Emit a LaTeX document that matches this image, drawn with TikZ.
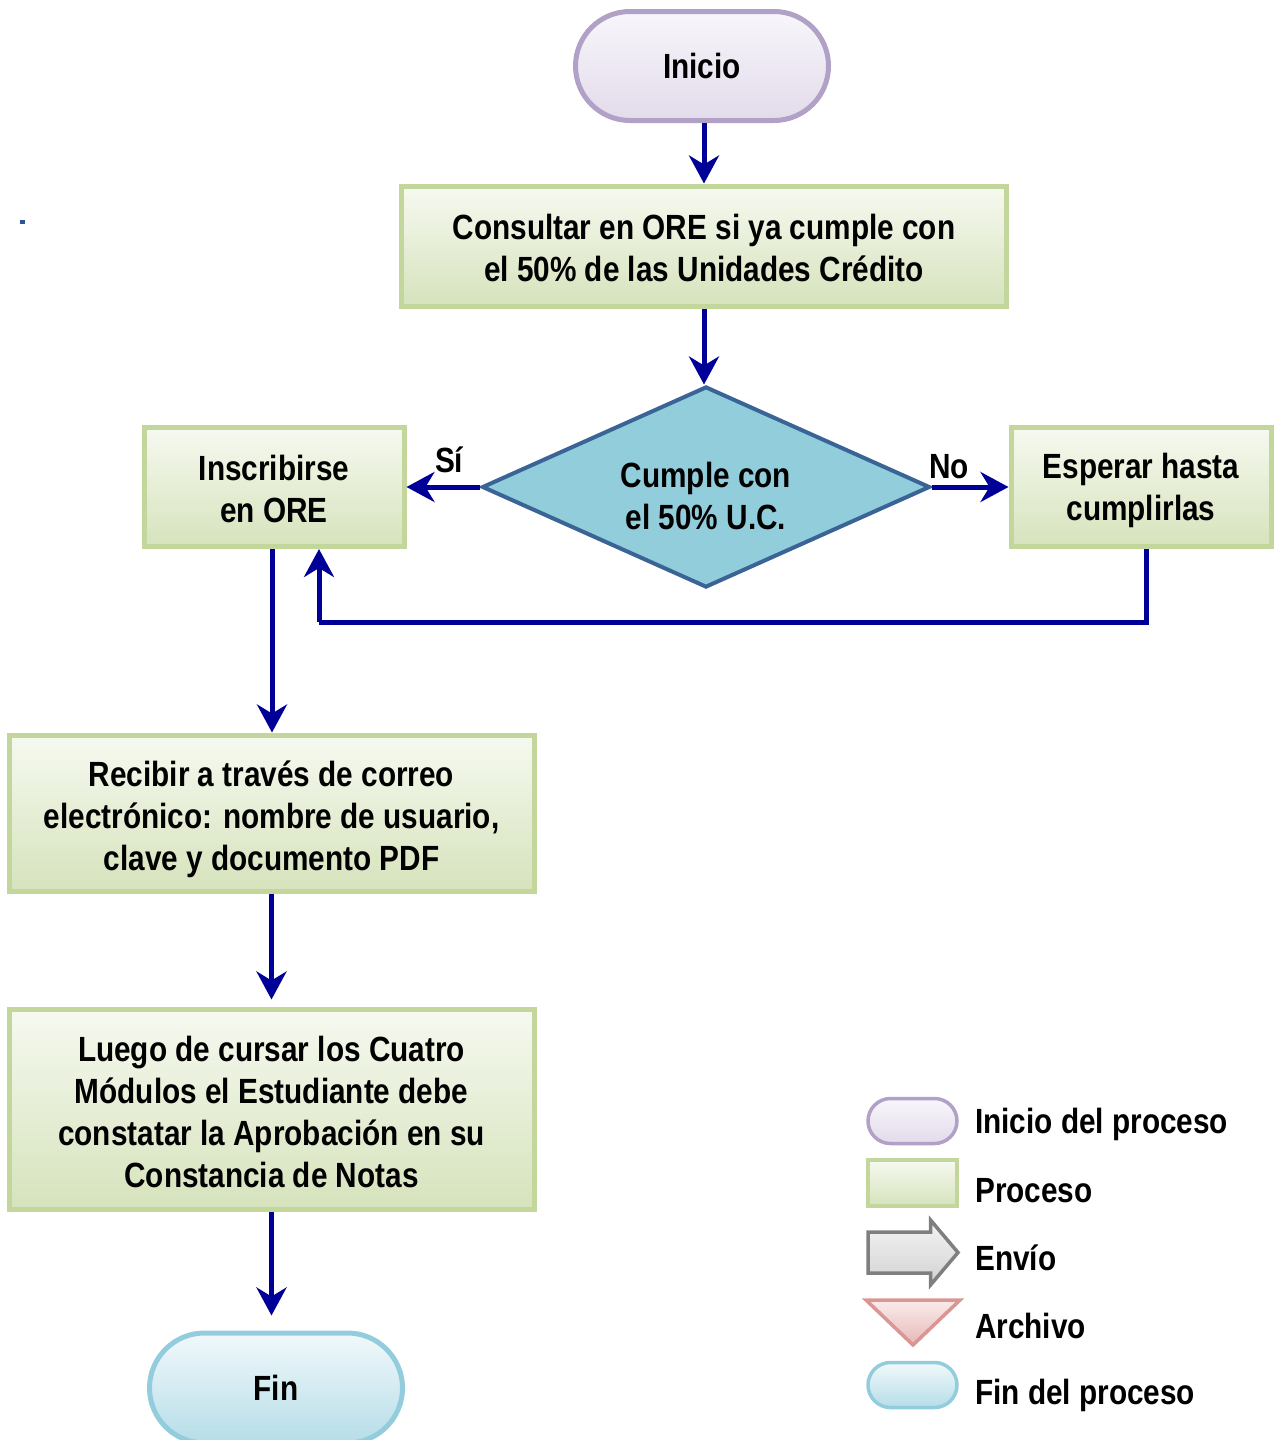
\documentclass[tikz,border=0pt]{standalone}
\usepackage{fontspec}
\setmainfont{Liberation Sans}[FakeStretch=0.85]
\usetikzlibrary{arrows.meta,shapes.geometric,shapes.misc,calc}

\definecolor{flowblue}{RGB}{0,0,153}
\definecolor{procline}{HTML}{C3D69B}
\definecolor{proctop}{HTML}{F6F9F0}
\definecolor{procbot}{HTML}{D6E3BC}
\definecolor{iniline}{HTML}{B2A1C7}
\definecolor{initop}{HTML}{F8F6FB}
\definecolor{inibot}{HTML}{E2DBEB}
\definecolor{finline}{HTML}{93CDDD}
\definecolor{fintop}{HTML}{F1F9FB}
\definecolor{finbot}{HTML}{B6DDE8}
\definecolor{decfill}{HTML}{92CDDC}
\definecolor{decline}{HTML}{3A6495}
\definecolor{envline}{HTML}{7F7F7F}
\definecolor{envtop}{HTML}{F4F4F4}
\definecolor{envbot}{HTML}{D2D2D2}
\definecolor{arcline}{HTML}{D99694}
\definecolor{arctop}{HTML}{FAECEC}
\definecolor{arcbot}{HTML}{E6B8B7}
\definecolor{dotblue}{HTML}{2F5597}

\begin{document}
\begin{tikzpicture}[x=1pt,y=-1pt,
  every node/.style={font=\fontsize{35}{42}\selectfont\bfseries, text=black},
  procbox/.style={rectangle, draw=procline, line width=5pt,
    top color=proctop, bottom color=procbot, inner sep=0pt},
  boxtext/.style={align=center, inner sep=0pt},
  startbox/.style={rounded rectangle, draw=iniline, line width=5pt,
    top color=initop, bottom color=inibot, inner sep=0pt},
  endbox/.style={rounded rectangle, draw=finline, line width=5pt,
    top color=fintop, bottom color=finbot, inner sep=0pt},
  decbox/.style={diamond, draw=decline, line width=4pt, fill=decfill,
    inner sep=0pt},
  flow/.style={draw=flowblue, line width=5pt,
    -{Stealth[length=28pt, width=30pt, inset=9pt]}},
  flowline/.style={draw=flowblue, line width=5pt},
  legtext/.style={anchor=base west, inner sep=0pt},
]
\useasboundingbox (0,0) rectangle (1274,1440);

% boxes of the main flow
\node[startbox, minimum width=253pt, minimum height=109pt] (ini) at (702,66) {Inicio};
\node[procbox, minimum width=605pt, minimum height=120pt] (cons) at (704,246) {};
\node[boxtext] (constext) at (704,248)
  {Consultar en ORE si ya cumple con\\el 50\% de las Unidades Crédito};
\node[decbox, minimum width=448pt, minimum height=201pt] (dec) at (706,487) {};
\node[boxtext] (dectext) at (706,496) {Cumple con\\el 50\% U.C.};
\node[procbox, minimum width=260pt, minimum height=119pt] (ins) at (274,487) {};
\node[boxtext] (instext) at (274,489) {Inscribirse\\en ORE};
\node[procbox, minimum width=260pt, minimum height=119pt] (esp) at (1141,487) {};
\node[boxtext] (esptext) at (1141,490) {Esperar hasta\\cumplirlas};
\node[procbox, minimum width=525pt, minimum height=156pt] (rec) at (271.5,813) {};
\node[boxtext] (rectext) at (271.5,819)
  {Recibir a través de correo\\electrónico: nombre de usuario,\\clave y documento PDF};
\node[procbox, minimum width=525pt, minimum height=200pt] (lue) at (271.5,1109) {};
\node[boxtext] (luetext) at (271.5,1112)
  {Luego de cursar los Cuatro\\Módulos el Estudiante debe\\constatar la Aprobación en su\\Constancia de Notas};
\node[endbox, minimum width=253pt, minimum height=110pt] (fin) at (276,1388) {Fin};

% connectors
\coordinate (inid) at ($(ini.south)+(2,0)$);
\draw[flow] (inid) -- (inid |- cons.north);
\draw[flow] (cons.south) -- (cons.south |- dec.north);
\draw[flow] (dec.west) -- node[above, pos=0.42, inner sep=12pt] (si) {Sí} (ins.east);
\draw[flow] (dec.east) -- node[above, pos=0.22, inner sep=6pt] (no) {No} (esp.west);
\coordinate (loopr) at ($(esp.south)+(5,0)$);
\coordinate (loopl) at ($(ins.south)+(45,0)$);
\draw[flowline] (loopr) -- ++(0,73) coordinate (loopc) -- (loopc -| loopl);
\draw[flow] (loopc -| loopl) -- (loopl);
\coordinate (insd) at ($(ins.south)+(-2,0)$);
\draw[flow] (insd) -- (insd |- rec.north);
\draw[flow] (rec.south) -- ($(lue.north)+(0,-7)$);
\draw[flow] (lue.south) -- ($(lue.south |- fin.north)+(0,-15)$);

% stray mark
\fill[dotblue] (20,219.5) rectangle (24.5,224);

% legend
\node[startbox, line width=3.5pt, minimum width=89pt, minimum height=45pt] (legini) at (912.5,1121) {};
\node[procbox, line width=3.5pt, minimum width=89pt, minimum height=46pt] (legproc) at (912.5,1183) {};
\draw[draw=envline, line width=3.5pt, top color=envtop, bottom color=envbot, line join=miter]
  (868,1232) -- (930.5,1232) -- (930.5,1220) -- (958,1252.5) -- (930.5,1285)
  -- (930.5,1273) -- (868,1273) -- cycle;
\draw[draw=arcline, line width=3.5pt, top color=arctop, bottom color=arcbot, line join=miter]
  (866,1300) -- (960,1300) -- (913,1345) -- cycle;
\node[endbox, line width=3.5pt, minimum width=89pt, minimum height=45pt] (legfin) at (912.5,1385) {};

\node[legtext] (tini) at (975,1133) {Inicio del proceso};
\node[legtext] (tproc) at (975,1202) {Proceso};
\node[legtext] (tenv) at (975,1270) {Envío};
\node[legtext] (tarc) at (975,1338) {Archivo};
\node[legtext] (tfin) at (975,1404) {Fin del proceso};
\end{tikzpicture}
\end{document}
